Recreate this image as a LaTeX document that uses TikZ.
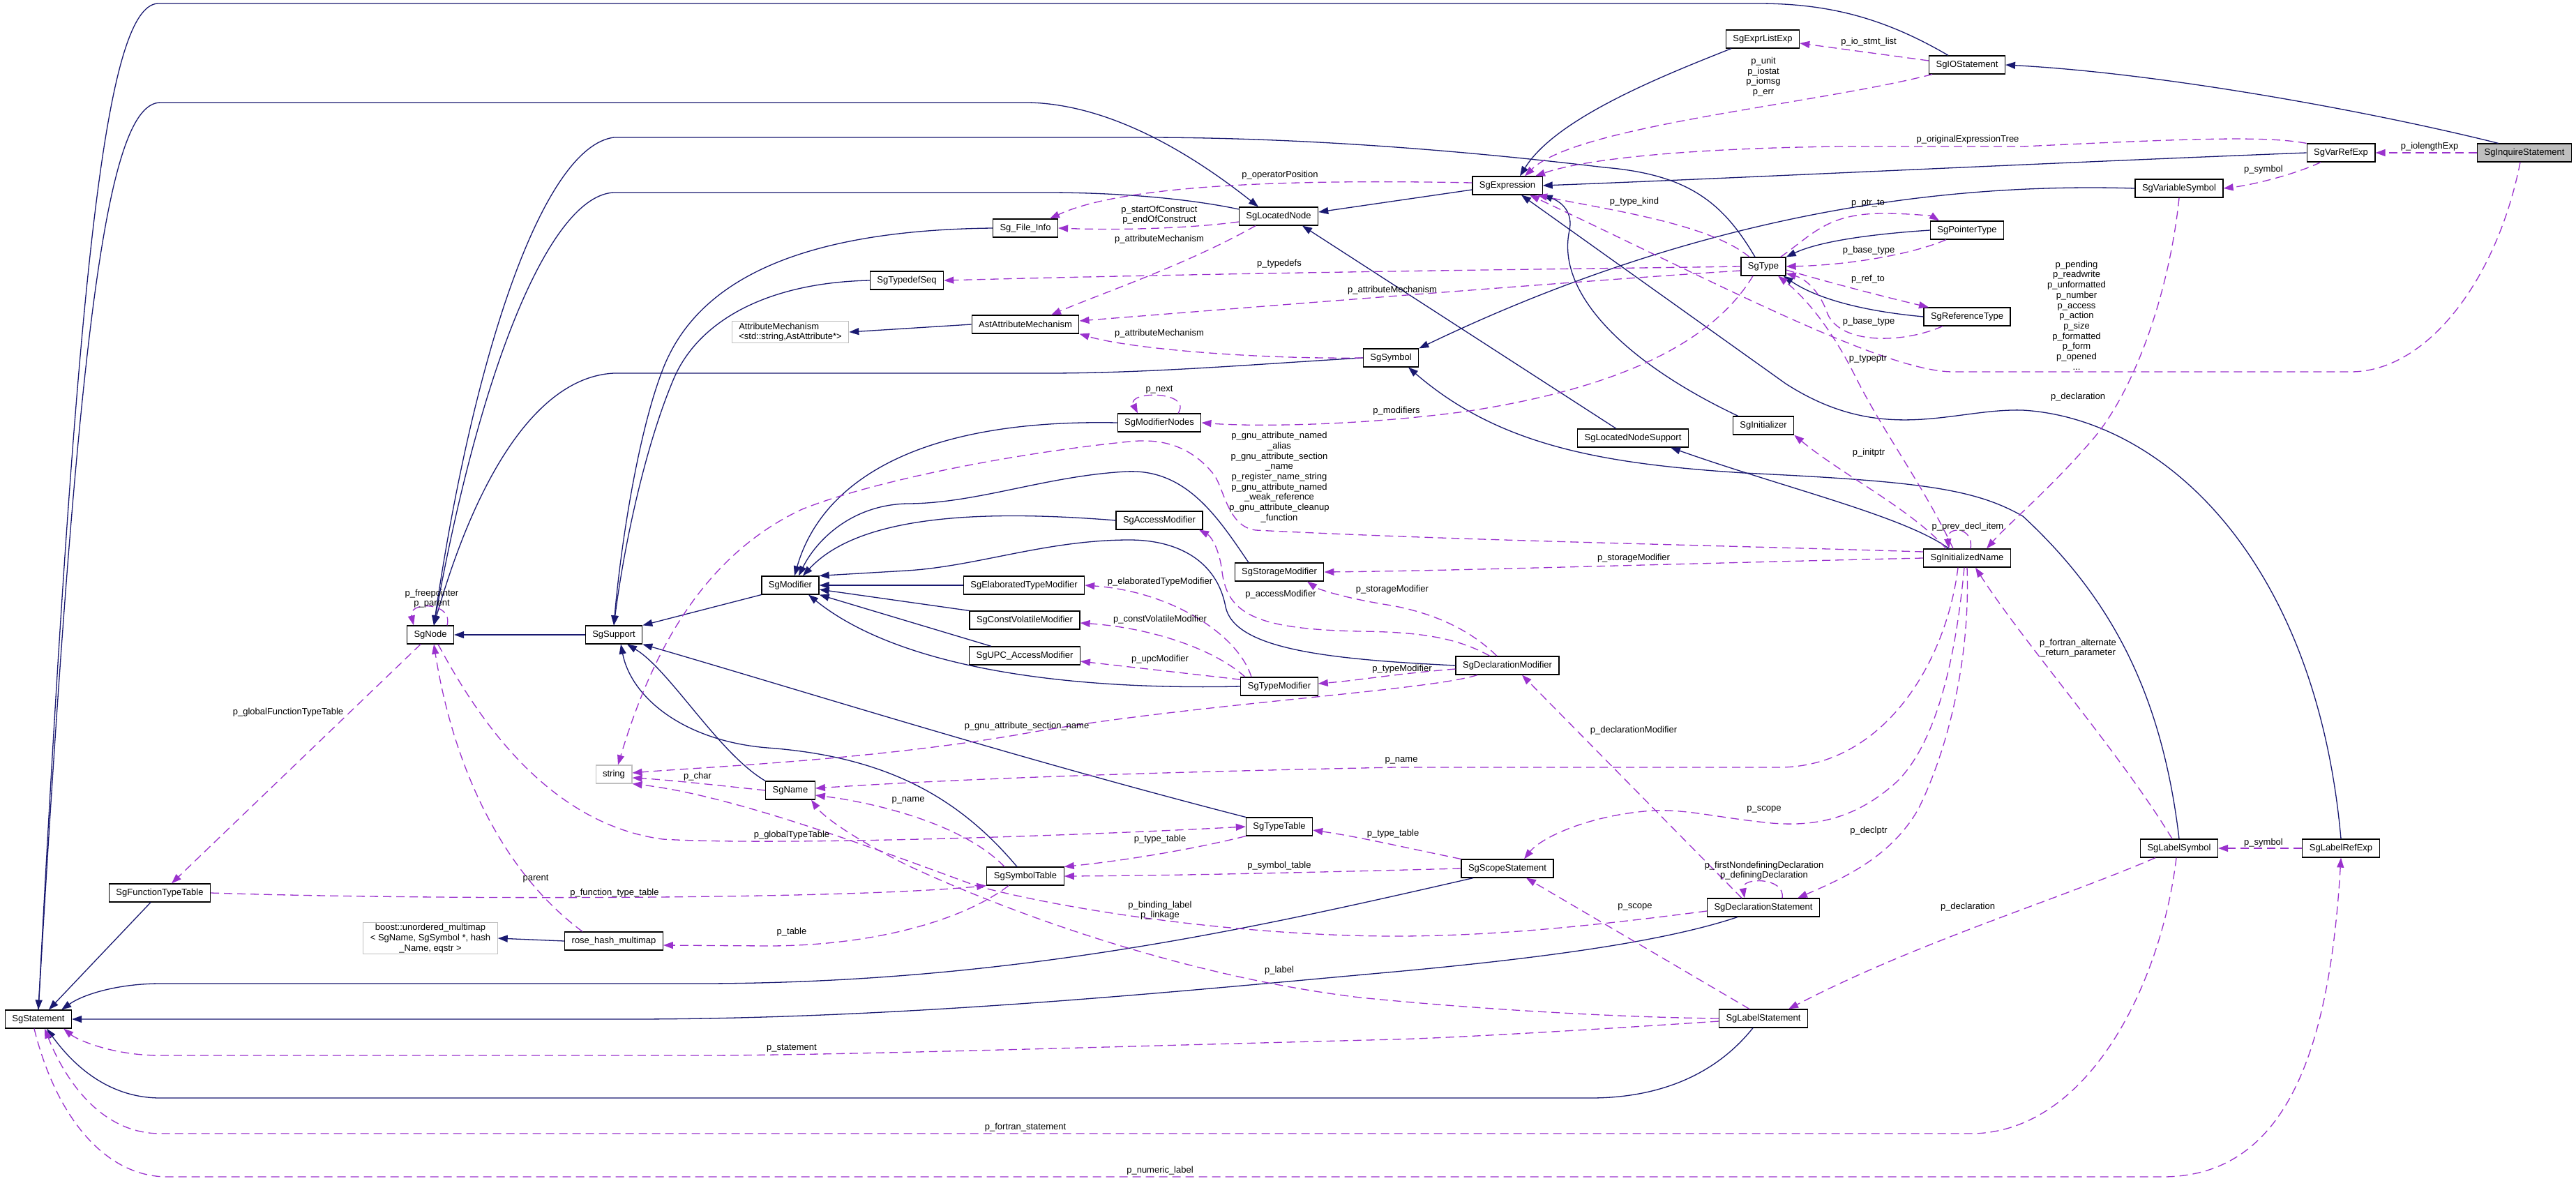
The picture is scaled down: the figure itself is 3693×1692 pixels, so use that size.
\documentclass[tikz,border=0pt]{standalone}
\usepackage{fontspec}
\setmainfont{Liberation Sans}
\usetikzlibrary{arrows.meta}
\definecolor{dxNavyLine}{HTML}{191970}
\definecolor{dxPurpleLine}{HTML}{9A32CD}
\definecolor{dxGreyLine}{HTML}{BFBFBF}
\definecolor{dxGreyFill}{HTML}{BFBFBF}

\begin{document}
\begin{tikzpicture}[x=1pt,y=-1pt,
  clsbox/.style={draw=black, fill=white, line width=1.2pt, minimum height=26pt,
                 inner xsep=10pt, inner ysep=2pt, font=\fontsize{13}{14.7}\selectfont},
  extbox/.style={clsbox, draw=dxGreyLine},
  inhedge/.style={draw=dxNavyLine, line width=1.3pt, -{Triangle[length=14pt,width=10pt]}},
  refedge/.style={draw=dxPurpleLine, line width=1.3pt, dash pattern=on 12pt off 7pt,
                  -{Triangle[length=14pt,width=10pt]}},
  lbl/.style={font=\fontsize{13}{14.7}\selectfont, align=center, inner sep=0pt}]

\useasboundingbox (0,0) rectangle (3693,1692);

%% ---- classes ------------------------------------------------------
\node[clsbox, fill=dxGreyFill] (inquire) at (3619,219) {SgInquireStatement};
\node[clsbox] (varref)      at (3356,219)  {SgVarRefExp};
\node[clsbox] (iostmt)      at (2820,93)   {SgIOStatement};
\node[clsbox] (exprlist)    at (2527,56)   {SgExprListExp};
\node[clsbox] (expression)  at (2161,266)  {SgExpression};
\node[clsbox] (varsym)      at (3124,270)  {SgVariableSymbol};
\node[clsbox] (locnode)     at (1833,310)  {SgLocatedNode};
\node[clsbox] (fileinfo)    at (1470,327)  {Sg\_File\_Info};
\node[clsbox] (typedefseq)  at (1300,402)  {SgTypedefSeq};
\node[extbox, align=left] (attrmech) at (1133,476)
  {AttributeMechanism\\<std::string,AstAttribute*>};
\node[clsbox] (astattr)     at (1470,465)  {AstAttributeMechanism};
\node[clsbox] (symbol)      at (1994,513)  {SgSymbol};
\node[clsbox] (type)        at (2528,382)  {SgType};
\node[clsbox] (ptrtype)     at (2820,330)  {SgPointerType};
\node[clsbox] (reftype)     at (2820,454)  {SgReferenceType};
\node[clsbox] (modnodes)    at (1662,606)  {SgModifierNodes};
\node[clsbox] (locsupport)  at (2341,628)  {SgLocatedNodeSupport};
\node[clsbox] (initializer) at (2528,610)  {SgInitializer};
\node[clsbox] (initname)    at (2820,800)  {SgInitializedName};
\node[clsbox] (node)        at (617,910)   {SgNode};
\node[clsbox] (support)     at (880,910)   {SgSupport};
\node[clsbox] (modifier)    at (1133,839)  {SgModifier};
\node[clsbox] (access)      at (1662,746)  {SgAccessModifier};
\node[clsbox] (storage)     at (1834,820)  {SgStorageModifier};
\node[clsbox] (elab)        at (1468,839)  {SgElaboratedTypeModifier};
\node[clsbox] (cv)          at (1469,889)  {SgConstVolatileModifier};
\node[clsbox] (upc)         at (1469,940)  {SgUPC\_AccessModifier};
\node[clsbox] (typemod)     at (1834,984)  {SgTypeModifier};
\node[clsbox] (declmod)     at (2161,954)  {SgDeclarationModifier};
\node[extbox] (string)      at (880,1110)  {string};
\node[clsbox] (name)        at (1133,1133) {SgName};
\node[clsbox] (typetable)   at (1834,1185) {SgTypeTable};
\node[clsbox] (symtable)    at (1470,1256) {SgSymbolTable};
\node[clsbox] (scope)       at (2161,1245) {SgScopeStatement};
\node[clsbox] (declstmt)    at (2528,1301) {SgDeclarationStatement};
\node[clsbox] (funtable)    at (229,1280)  {SgFunctionTypeTable};
\node[extbox, align=center] (boost) at (617,1345)
  {boost::unordered\_multimap\\< SgName, SgSymbol *, hash\\\_Name, eqstr >};
\node[clsbox] (rosehash)    at (880,1349)  {rose\_hash\_multimap};
\node[clsbox] (statement)   at (55,1461)   {SgStatement};
\node[clsbox] (labelstmt)   at (2528,1460) {SgLabelStatement};
\node[clsbox] (labelsym)    at (3124,1216) {SgLabelSymbol};
\node[clsbox] (labelref)    at (3356,1216) {SgLabelRefExp};

%% ---- inheritance --------------------------------------------------
\draw[inhedge] (inquire.160) .. controls (3400,160) and (3100,105) .. (iostmt.east);
\draw[inhedge] ([xshift=-27pt]iostmt.north) .. controls (2700,25) and (2620,5) .. (2520,5)
  -- (226,5) .. controls (150,10) and (110,400) .. (statement.north);
\draw[inhedge] (statement.north) .. controls (110,500) and (150,147) .. (230,147)
  -- (1475,147) .. controls (1600,150) and (1720,230) .. ([xshift=-29pt]locnode.north);
\draw[inhedge] ([yshift=-6pt]expression.west) -- ([yshift=6pt]locnode.east);
\draw[inhedge] ([xshift=-45pt]exprlist.south) .. controls (2380,110) and (2230,170) .. ([xshift=18pt]expression.north);
\draw[inhedge] (varref.west) .. controls (2900,235) and (2500,255) .. (expression.east);
\draw[inhedge] ([xshift=8pt]initializer.north west) .. controls (2330,520) and (2230,420) .. (2250,330)
  .. controls (2255,305) and (2240,290) .. (expression.south east);
\draw[inhedge] (labelref.north) .. controls (3320,800) and (3100,600) .. (2900,588)
  .. controls (2800,585) and (2700,640) .. (2560,550) -- ([xshift=20pt]expression.south);
\draw[inhedge] (ptrtype.west) .. controls (2690,335) and (2610,345) .. (type.north east);
\draw[inhedge] (reftype.west) .. controls (2660,445) and (2600,425) .. ([xshift=-4pt]type.south east);
\draw[inhedge] ([xshift=-12pt]type.north) .. controls (2470,290) and (2420,250) .. (2300,240)
  .. controls (2150,222) and (1900,197) .. (1640,197) -- (880,197)
  .. controls (780,210) and (680,500) .. ([xshift=5pt]node.north);
\draw[inhedge] (locnode.170) .. controls (1700,284) and (1600,276) .. (1500,276) -- (880,276)
  .. controls (790,280) and (690,520) .. ([xshift=5pt]node.north);
\draw[inhedge] (symbol.west) .. controls (1800,522) and (1650,535) .. (1500,535) -- (880,535)
  .. controls (780,540) and (690,660) .. ([xshift=5pt]node.north);
\draw[inhedge] (support.west) -- (node.east);
\draw[inhedge] (fileinfo.west) .. controls (1150,330) and (1000,400) .. (950,530)
  .. controls (915,620) and (890,780) .. (support.north);
\draw[inhedge] (typedefseq.west) .. controls (1100,405) and (1000,460) .. (965,545)
  .. controls (925,640) and (895,780) .. (support.north);
\draw[inhedge] (modifier.south west) -- (support.north east);
\draw[inhedge] (typetable.north west) .. controls (1450,1085) and (1150,990) .. (support.south east);
\draw[inhedge] (name.north west) .. controls (1030,1080) and (960,960) .. ([xshift=19pt]support.south);
\draw[inhedge] ([xshift=-12pt]symtable.north) .. controls (1380,1150) and (1280,1085) .. (1100,1072)
  .. controls (980,1062) and (905,1000) .. ([xshift=10pt]support.south);
\draw[inhedge] (modnodes.west) .. controls (1300,600) and (1175,700) .. ([xshift=6pt]modifier.north);
\draw[inhedge] ([xshift=-44pt]storage.north) .. controls (1745,740) and (1700,672) .. (1615,676)
  .. controls (1500,682) and (1400,722) .. (1300,722)
  .. controls (1220,724) and (1170,775) .. ([xshift=12pt]modifier.north);
\draw[inhedge] (access.west) .. controls (1400,730) and (1230,740) .. ([xshift=18pt]modifier.north);
\draw[inhedge] (declmod.west) .. controls (1900,945) and (1770,930) .. (1757,870)
  .. controls (1745,805) and (1690,774) .. (1619,774)
  .. controls (1500,774) and (1400,812) .. (1300,818) -- (modifier.north east);
\draw[inhedge] (elab.west) -- (modifier.east);
\draw[inhedge] (cv.north west) -- ([yshift=-6pt]modifier.east);
\draw[inhedge] ([xshift=-48pt]upc.north) -- (modifier.south east);
\draw[inhedge] (typemod.west) .. controls (1500,990) and (1280,950) .. ([xshift=26pt]modifier.south);
\draw[inhedge] (varsym.west) .. controls (2800,262) and (2450,300) .. (symbol.north east);
\draw[inhedge] (labelsym.north) .. controls (3100,1000) and (3030,860) .. (2900,740)
  .. controls (2830,700) and (2750,690) .. (2500,678)
  .. controls (2300,665) and (2150,640) .. ([xshift=25pt]symbol.south);
\draw[inhedge] ([xshift=-24pt]locsupport.north) -- ([xshift=34pt]locnode.south);
\draw[inhedge] ([xshift=-26pt]initname.north) .. controls (2730,740) and (2560,700) .. ([xshift=54pt]locsupport.south);
\draw[inhedge] ([xshift=-13pt]funtable.south) -- ([xshift=15pt]statement.north);
\draw[inhedge] ([xshift=-49pt]scope.south) .. controls (1800,1330) and (1450,1410) .. (1000,1410)
  -- (230,1410) .. controls (170,1410) and (120,1425) .. ([xshift=-15pt]statement.north east);
\draw[inhedge] ([xshift=-37pt]declstmt.south) .. controls (2400,1345) and (2250,1370) .. (2000,1393)
  .. controls (1700,1420) and (1300,1461) .. (900,1461) -- (statement.east);
\draw[inhedge] ([xshift=-15pt]labelstmt.south) .. controls (2460,1540) and (2380,1574) .. (2280,1574)
  -- (230,1574) .. controls (150,1574) and (100,1520) .. ([xshift=12pt]statement.south);
\draw[inhedge] (rosehash.west) -- (boost.east);
\draw[inhedge] (astattr.west) -- (attrmech.east);

%% ---- members ------------------------------------------------------
\draw[refedge] (inquire.west) -- (varref.east);
\draw[refedge] ([xshift=-29pt]varref.south) .. controls (3290,250) and (3230,265) .. (varsym.east);
\draw[refedge] (varref.north west) .. controls (3250,195) and (3150,198) .. (2900,210) -- (2640,210)
  .. controls (2450,212) and (2280,225) .. ([xshift=40pt]expression.north);
\draw[refedge] ([yshift=6pt]iostmt.west) -- ([yshift=-6pt]exprlist.east);
\draw[refedge] ([xshift=-50pt]iostmt.south) .. controls (2600,150) and (2260,180) .. ([xshift=25pt]expression.north);
\draw[refedge] ([xshift=-6pt]inquire.south) .. controls (3580,400) and (3480,533) .. (3370,533)
  -- (2800,533) .. controls (2700,533) and (2450,400) .. ([xshift=32pt]expression.south);
\draw[refedge] ([xshift=-20pt]type.north) .. controls (2450,320) and (2300,300) .. ([xshift=43pt]expression.south);
\draw[refedge] ([yshift=4pt]expression.west) .. controls (1900,258) and (1620,260) .. ([xshift=35pt]fileinfo.north);
\draw[refedge] ([yshift=-8pt]locnode.west) .. controls (1700,328) and (1600,330) .. (fileinfo.east);
\draw[refedge] ([xshift=-33pt]locnode.south) .. controls (1700,380) and (1580,420) .. ([xshift=37pt]astattr.north);
\draw[refedge] (type.west) .. controls (2300,385) and (1800,390) .. (typedefseq.east);
\draw[refedge] ([yshift=-6pt]type.west) .. controls (2300,400) and (1800,440) .. ([yshift=5pt]astattr.east);
\draw[refedge] (symbol.west) .. controls (1800,515) and (1620,500) .. (astattr.south east);
\draw[refedge] ([xshift=-8pt]type.north east) .. controls (2600,335) and (2620,306) .. (2700,306)
  .. controls (2740,306) and (2770,310) .. ([xshift=-40pt]ptrtype.north);
\draw[refedge] ([xshift=-30pt]ptrtype.south) .. controls (2740,365) and (2650,380) .. (type.east);
\draw[refedge] ([yshift=-5pt]type.east) .. controls (2640,410) and (2720,430) .. ([xshift=-55pt]reftype.north);
\draw[refedge] ([xshift=-35pt]reftype.south) .. controls (2730,492) and (2640,495) .. (2620,450)
  .. controls (2610,420) and (2590,400) .. ([yshift=-10pt]type.east);
\draw[refedge] ([xshift=-20pt]initname.north) .. controls (2760,700) and (2700,620) .. (2660,540)
  .. controls (2620,460) and (2580,420) .. ([xshift=21pt]type.south);
\draw[refedge] ([xshift=-15pt]type.south) .. controls (2450,500) and (2300,560) .. (2100,590)
  .. controls (1950,610) and (1800,612) .. (modnodes.east);
\draw[refedge] ([xshift=27pt]modnodes.north) .. controls (1710,560) and (1615,560) .. ([xshift=-31pt]modnodes.north);
\draw[refedge] ([xshift=24pt]node.north) .. controls (650,862) and (585,862) .. ([xshift=-24pt]node.north);
\draw[refedge] ([xshift=-14pt]node.south) -- ([xshift=17pt]funtable.north);
\draw[refedge] ([xshift=11pt]node.south) .. controls (680,1020) and (780,1180) .. (950,1203)
  .. controls (1100,1212) and (1500,1200) .. (typetable.west);
\draw[refedge] ([xshift=-45pt]rosehash.north) .. controls (720,1250) and (650,1100) .. ([xshift=5pt]node.south);
\draw[refedge] (funtable.east) .. controls (600,1290) and (1200,1290) .. (symtable.south west);
\draw[refedge] ([xshift=-24pt]symtable.south) .. controls (1380,1320) and (1250,1356) .. (1100,1356)
  -- ([yshift=-6pt]rosehash.east);
\draw[refedge] (typetable.south west) .. controls (1700,1220) and (1600,1235) .. (symtable.north east);
\draw[refedge] (scope.west) .. controls (1900,1250) and (1700,1255) .. (symtable.east);
\draw[refedge] (scope.north west) .. controls (2000,1212) and (1950,1200) .. ([yshift=-5pt]typetable.east);
\draw[refedge] ([xshift=-30pt]symtable.north) .. controls (1380,1180) and (1250,1150) .. ([yshift=-7pt]name.east);
\draw[refedge] ([xshift=-13pt]initname.south) .. controls (2790,950) and (2700,1100) .. (2550,1100)
  -- (2000,1100) .. controls (1600,1108) and (1350,1118) .. ([yshift=3pt]name.east);
\draw[refedge] (name.west) .. controls (1050,1128) and (960,1118) .. ([yshift=-5pt]string.east);
\draw[refedge] ([xshift=-43pt]declmod.south) .. controls (2050,990) and (1700,1010) .. (1472,1051)
  .. controls (1250,1090) and (1000,1100) .. ([yshift=2pt]string.east);
\draw[refedge] ([yshift=9pt]initname.west) .. controls (2400,780) and (2100,775) .. (1800,760)
  .. controls (1760,755) and (1755,700) .. (1740,680)
  .. controls (1700,630) and (1650,630) .. (1619,633)
  .. controls (1450,650) and (1250,690) .. (1150,730)
  .. controls (1000,800) and (930,950) .. ([xshift=6pt]string.north);
\draw[refedge] (initname.west) .. controls (2400,808) and (2100,818) .. (storage.east);
\draw[refedge] ([xshift=-15pt]declmod.north) .. controls (2110,905) and (2060,880) .. (1995,868)
  .. controls (1930,858) and (1890,845) .. ([xshift=40pt]storage.south);
\draw[refedge] ([xshift=-25pt]declmod.north) .. controls (2090,915) and (2040,906) .. (1950,905)
  .. controls (1800,902) and (1760,880) .. (1752,820)
  .. controls (1748,785) and (1735,768) .. ([xshift=57pt]access.south);
\draw[refedge] ([yshift=-5pt]declmod.west) .. controls (2000,966) and (1950,975) .. ([yshift=4pt]typemod.east);
\draw[refedge] ([xshift=-40pt]typemod.north) .. controls (1775,910) and (1680,848) .. (elab.east);
\draw[refedge] ([xshift=-49pt]typemod.north) .. controls (1740,930) and (1650,900) .. ([yshift=-4pt]cv.east);
\draw[refedge] (typemod.170) -- ([yshift=-8pt]upc.east);
\draw[refedge] ([xshift=-31pt]declstmt.north) -- ([xshift=21pt]declmod.south);
\draw[refedge] ([xshift=27pt]declstmt.north) .. controls (2560,1257) and (2496,1257) .. ([xshift=-27pt]declstmt.north);
\draw[refedge] (initname.south) .. controls (2825,950) and (2790,1080) .. (2750,1160)
  .. controls (2710,1230) and (2640,1260) .. ([xshift=49pt]declstmt.north);
\draw[refedge] ([xshift=-4pt]initname.south) .. controls (2805,930) and (2780,1060) .. (2720,1120)
  .. controls (2660,1175) and (2600,1185) .. (2540,1180)
  .. controls (2460,1172) and (2420,1160) .. (2370,1162)
  .. controls (2280,1168) and (2210,1200) .. ([xshift=24pt]scope.north);
\draw[refedge] ([xshift=-20pt]labelstmt.north) -- ([xshift=27pt]scope.south);
\draw[refedge] ([xshift=-34pt]labelsym.south) .. controls (2950,1290) and (2750,1350) .. ([xshift=36pt]labelstmt.north);
\draw[refedge] (labelstmt.west) .. controls (2300,1458) and (2100,1445) .. (1950,1430)
  .. controls (1700,1400) and (1450,1310) .. (1300,1240)
  .. controls (1220,1200) and (1180,1170) .. ([xshift=30pt]name.south);
\draw[refedge] ([yshift=-5pt]declstmt.west) .. controls (2300,1325) and (2150,1342) .. (2000,1342)
  .. controls (1800,1342) and (1550,1310) .. (1400,1270)
  .. controls (1250,1215) and (1050,1140) .. (string.south east);
\draw[refedge] ([yshift=-4pt]labelstmt.west) .. controls (2300,1475) and (2100,1487) .. (2000,1490)
  .. controls (1600,1500) and (1200,1513) .. (1000,1513) -- (230,1513)
  .. controls (160,1513) and (110,1490) .. ([xshift=-12pt]statement.south east);
\draw[refedge] ([xshift=-4pt]labelsym.south) .. controls (3100,1400) and (3000,1620) .. (2830,1625)
  -- (230,1625) .. controls (140,1625) and (90,1540) .. ([xshift=9pt]statement.south);
\draw[refedge] ([xshift=-6pt]statement.south) .. controls (80,1600) and (150,1687) .. (240,1687)
  -- (3100,1687) .. controls (3280,1687) and (3340,1500) .. (labelref.south);
\draw[refedge] (labelref.west) -- (labelsym.east);
\draw[refedge] ([xshift=-10pt]labelsym.north) .. controls (3040,1080) and (2900,920) .. ([xshift=12pt]initname.south);
\draw[refedge] (varsym.south) .. controls (3110,420) and (3060,560) .. (3000,630)
  .. controls (2940,700) and (2880,750) .. ([xshift=28pt]initname.north);
\draw[refedge] ([xshift=5pt]initname.north) .. controls (2830,754) and (2790,754) .. ([xshift=-26pt]initname.north);
\draw[refedge] ([xshift=-30pt]initname.north) .. controls (2740,730) and (2640,680) .. (initializer.south east);

%% ---- member labels ------------------------------------------------
\node[lbl] (lIoLen)     at (3483,210)  {p\_iolengthExp};
\node[lbl] (lSymA)      at (3245,243)  {p\_symbol};
\node[lbl] (lOrigTree)  at (2821,200)  {p\_originalExpressionTree};
\node[lbl] (lIoList)    at (2679,60)   {p\_io\_stmt\_list};
\node[lbl] (lUnit)      at (2528,110)  {p\_unit\\p\_iostat\\p\_iomsg\\p\_err};
\node[lbl] (lPending)   at (2977,452)  {p\_pending\\p\_readwrite\\p\_unformatted\\p\_number\\p\_access\\p\_action\\p\_size\\p\_formatted\\p\_form\\p\_opened\\...};
\node[lbl] (lTypeKind)  at (2343,289)  {p\_type\_kind};
\node[lbl] (lOpPos)     at (1835,251)  {p\_operatorPosition};
\node[lbl] (lConstruct) at (1662,308)  {p\_startOfConstruct\\p\_endOfConstruct};
\node[lbl] (lAttrA)     at (1662,343)  {p\_attributeMechanism};
\node[lbl] (lTypedefs)  at (1834,378)  {p\_typedefs};
\node[lbl] (lAttrB)     at (1996,416)  {p\_attributeMechanism};
\node[lbl] (lAttrC)     at (1662,478)  {p\_attributeMechanism};
\node[lbl] (lPtrTo)     at (2678,292)  {p\_ptr\_to};
\node[lbl] (lBaseA)     at (2679,359)  {p\_base\_type};
\node[lbl] (lRefTo)     at (2678,400)  {p\_ref\_to};
\node[lbl] (lBaseB)     at (2679,461)  {p\_base\_type};
\node[lbl] (lTypeptr)   at (2678,515)  {p\_typeptr};
\node[lbl] (lModifiers) at (2002,589)  {p\_modifiers};
\node[lbl] (lNext)      at (1662,559)  {p\_next};
\node[lbl] (lFreeParent) at (619,858)  {p\_freepointer\\p\_parent};
\node[lbl] (lGlobFun)   at (413,1021)  {p\_globalFunctionTypeTable};
\node[lbl] (lGlobType)  at (1135,1197) {p\_globalTypeTable};
\node[lbl] (lParentB)   at (768,1260)  {parent};
\node[lbl] (lFunTab)    at (881,1280)  {p\_function\_type\_table};
\node[lbl] (lTable)     at (1135,1336) {p\_table};
\node[lbl] (lTypeTabA)  at (1663,1203) {p\_type\_table};
\node[lbl] (lSymTab)    at (1834,1241) {p\_symbol\_table};
\node[lbl] (lTypeTabB)  at (1997,1195) {p\_type\_table};
\node[lbl] (lNameA)     at (1302,1147) {p\_name};
\node[lbl] (lNameB)     at (2009,1090) {p\_name};
\node[lbl] (lChar)      at (1000,1113) {p\_char};
\node[lbl] (lSecName)   at (1472,1041) {p\_gnu\_attribute\_section\_name};
\node[lbl] (lGnu)       at (1834,684)  {p\_gnu\_attribute\_named\\\_alias\\p\_gnu\_attribute\_section\\\_name\\p\_register\_name\_string\\p\_gnu\_attribute\_named\\\_weak\_reference\\p\_gnu\_attribute\_cleanup\\\_function};
\node[lbl] (lStorA)     at (2342,800)  {p\_storageModifier};
\node[lbl] (lStorB)     at (1996,845)  {p\_storageModifier};
\node[lbl] (lAccess)    at (1836,852)  {p\_accessModifier};
\node[lbl] (lTypeMod)   at (2010,959)  {p\_typeModifier};
\node[lbl] (lElab)      at (1663,834)  {p\_elaboratedTypeModifier};
\node[lbl] (lCV)        at (1663,888)  {p\_constVolatileModifier};
\node[lbl] (lUpc)       at (1663,945)  {p\_upcModifier};
\node[lbl] (lDeclMod)   at (2342,1047) {p\_declarationModifier};
\node[lbl] (lDefDecl)   at (2529,1248) {p\_firstNondefiningDeclaration\\p\_definingDeclaration};
\node[lbl] (lDeclptr)   at (2679,1191) {p\_declptr};
\node[lbl] (lScopeA)    at (2529,1160) {p\_scope};
\node[lbl] (lScopeB)    at (2344,1300) {p\_scope};
\node[lbl] (lDeclB)     at (2821,1300) {p\_declaration};
\node[lbl] (lLabel)     at (1834,1391) {p\_label};
\node[lbl] (lBinding)   at (1663,1305) {p\_binding\_label\\p\_linkage};
\node[lbl] (lStatement) at (1135,1503) {p\_statement};
\node[lbl] (lFortStmt)  at (1470,1616) {p\_fortran\_statement};
\node[lbl] (lNumLabel)  at (1663,1678) {p\_numeric\_label};
\node[lbl] (lSymB)      at (3245,1208) {p\_symbol};
\node[lbl] (lFortAlt)   at (2979,929)  {p\_fortran\_alternate\\\_return\_parameter};
\node[lbl] (lDeclA)     at (2979,569)  {p\_declaration};
\node[lbl] (lPrevDecl)  at (2821,755)  {p\_prev\_decl\_item};
\node[lbl] (lInitptr)   at (2679,649)  {p\_initptr};

\end{tikzpicture}
\end{document}
